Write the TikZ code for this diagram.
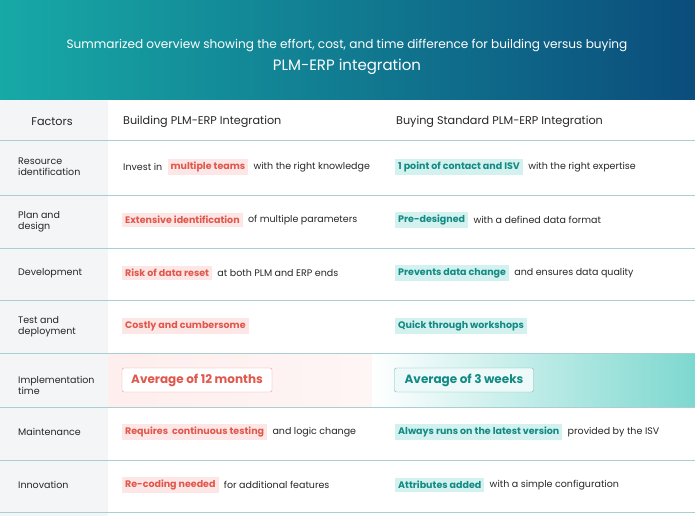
\documentclass[tikz,border=0pt]{standalone}
\usepackage{fontspec}
\setmainfont{Poppins}
\usetikzlibrary{positioning}
\definecolor{hdrL}{HTML}{17A9A6}
\definecolor{hdrR}{HTML}{0B4D7C}
\definecolor{redtxt}{HTML}{E0574C}
\definecolor{redbg}{HTML}{FDE7E6}
\definecolor{teatxt}{HTML}{138A84}
\definecolor{teabg}{HTML}{D3F2EF}
\definecolor{teadeep}{HTML}{7DD8CF}
\definecolor{rule}{HTML}{A9CFD2}
\definecolor{greycol}{HTML}{F4F5F6}
\tikzset{
  txt/.style={font=\fontsize{9.5}{11}\selectfont, text=black!85, inner sep=1pt},
  headtxt/.style={font=\fontsize{11.2}{13}\selectfont, text=black!85, inner sep=1pt},
  fac/.style={font=\fontsize{9.5}{11}\selectfont, text=black!85, align=left, anchor=west, inner sep=0pt},
  redtag/.style={fill=redbg, text=redtxt, font=\fontsize{9.5}{11}\selectfont\bfseries, inner sep=3pt},
  teatag/.style={fill=teabg, text=teatxt, font=\fontsize{9.5}{11}\selectfont\bfseries, inner sep=3pt},
}
\begin{document}
\begin{tikzpicture}[x=1pt,y=-1pt]
\useasboundingbox (0,0) rectangle (695,516);
%\draw[help lines] (0,0) grid[step=50] (695,516);
\shade[left color=hdrL, right color=hdrR] (0,0) rectangle (695,100);
\node[text=white, font=\fontsize{12.1}{14}\selectfont] (title1) at (347,46) {Summarized overview showing the effort, cost, and time difference for building versus buying};
\node[text=white, font=\fontsize{15}{17}\selectfont] (title2) at (347,67) {PLM-ERP integration};
\fill[greycol] (0,100) rectangle (108,516);
\shade[left color=redbg!70, right color=redbg!40] (108,353) rectangle (372,407);
\shade[left color=white, right color=teadeep] (372,353) rectangle (695,407);
% rules
\foreach \y in {140,195,248,300,353,407,460,512}
  \draw[rule, line width=1pt] (0,\y) -- (695,\y);
% header row
\node[headtxt] (hfac) at (52,122) {Factors};
\node[headtxt, anchor=west] (hbuild) at (122,122) {Building PLM-ERP Integration};
\node[headtxt, anchor=west] (hbuy) at (395,122) {Buying Standard PLM-ERP Integration};
% resource identification
\node[fac] (f1) at (18,167) {Resource\\identification};
\node[txt, anchor=west] (b1a) at (122,167) {Invest in};
\node[redtag, right=4pt of b1a] (b1b) {multiple teams};
\node[txt, right=4pt of b1b] (b1c) {with the right knowledge};
\node[teatag, anchor=west] (s1a) at (395,167) {1 point of contact and ISV};
\node[txt, right=4pt of s1a] (s1b) {with the right expertise};
% plan and design
\node[fac] (f2) at (18,222) {Plan and\\design};
\node[redtag, anchor=west] (b2a) at (122,220) {Extensive identification};
\node[txt, right=4pt of b2a] (b2b) {of multiple parameters};
\node[teatag, anchor=west] (s2a) at (395,220) {Pre-designed};
\node[txt, right=4pt of s2a] (s2b) {with a defined data format};
% development
\node[fac] (f3) at (18,273) {Development};
\node[redtag, anchor=west] (b3a) at (122,273) {Risk of data reset};
\node[txt, right=4pt of b3a] (b3b) {at both PLM and ERP ends};
\node[teatag, anchor=west] (s3a) at (395,273) {Prevents data change};
\node[txt, right=4pt of s3a] (s3b) {and ensures data quality};
% test and deployment
\node[fac] (f4) at (18,327) {Test and\\deployment};
\node[redtag, anchor=west] (b4a) at (122,326) {Costly and cumbersome};
\node[teatag, anchor=west] (s4a) at (395,326) {Quick through workshops};
% implementation time
\node[fac] (f5) at (18,385) {Implementation\\time};
\node[draw=redtxt!60, rounded corners=2pt, fill=white, text=redtxt, font=\fontsize{12}{14}\selectfont\bfseries, minimum width=150pt, minimum height=24pt] (b5a) at (197,380) {Average of 12 months};
\node[draw=teatxt!60, rounded corners=2pt, fill=teabg!40, text=teatxt, font=\fontsize{12}{14}\selectfont\bfseries, minimum width=139pt, minimum height=24pt] (s5a) at (464,380) {Average of 3 weeks};
% maintenance
\node[fac] (f6) at (18,432) {Maintenance};
\node[redtag, anchor=west] (b6a) at (122,432) {Requires\ \ continuous testing};
\node[txt, right=4pt of b6a] (b6b) {and logic change};
\node[teatag, anchor=west] (s6a) at (395,432) {Always runs on the latest version};
\node[txt, right=4pt of s6a] (s6b) {provided by the ISV};
% innovation
\node[fac] (f7) at (18,485) {Innovation};
\node[redtag, anchor=west] (b7a) at (122,485) {Re-coding needed};
\node[txt, right=4pt of b7a] (b7b) {for additional features};
\node[teatag, anchor=west] (s7a) at (395,485) {Attributes added};
\node[txt, right=4pt of s7a] (s7b) {with a simple configuration};
\end{tikzpicture}
\end{document}
